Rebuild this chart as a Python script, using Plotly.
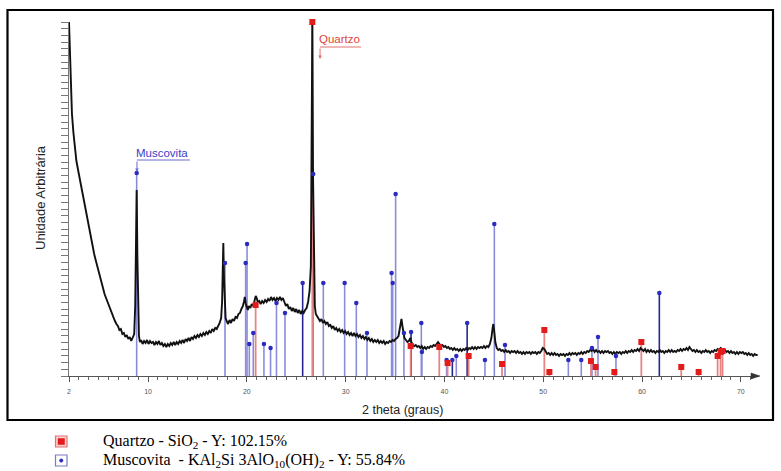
import plotly.graph_objects as go

# ---------------- data ----------------
# measured diffractogram: 2-theta (degrees) and intensity (arbitrary units)
scan_2theta = [
    2.00, 2.10, 2.20, 2.30, 2.45, 2.60, 2.75, 2.90, 3.05, 3.20,
    3.35, 3.50, 3.65, 3.80, 3.95, 4.10, 4.25, 4.40, 4.55, 4.70,
    4.85, 5.00, 5.15, 5.30, 5.45, 5.60, 5.75, 5.90, 6.05, 6.20,
    6.35, 6.50, 6.65, 6.80, 6.95, 7.10, 7.25, 7.40, 7.55, 7.70,
    7.85, 8.00, 8.15, 8.30, 8.45,
    8.60, 8.70, 8.78, 8.85, 8.92, 9.00, 9.08, 9.18, 9.30,
    9.45, 9.60, 9.75, 9.90, 10.05, 10.20, 10.35, 10.50, 10.65, 10.80,
    10.95, 11.10, 11.25, 11.40, 11.55, 11.70, 11.85, 12.00, 12.15, 12.30,
    12.45, 12.60, 12.75, 12.90, 13.05, 13.20, 13.35, 13.50, 13.65, 13.80,
    13.95, 14.10, 14.25, 14.40, 14.55, 14.70, 14.85, 15.00, 15.15, 15.30,
    15.45, 15.60, 15.75, 15.90, 16.05, 16.20, 16.35, 16.50, 16.65, 16.80,
    16.95, 17.10, 17.25, 17.40,
    17.50, 17.57, 17.62, 17.68, 17.76, 17.85, 17.95,
    18.10, 18.25, 18.40, 18.55, 18.70, 18.85, 19.00, 19.15, 19.30, 19.45, 19.60,
    19.70, 19.80, 19.90, 20.00, 20.10, 20.20,
    20.35, 20.50, 20.65, 20.80,
    20.90, 21.00, 21.10,
    21.25, 21.40, 21.55, 21.70, 21.85, 22.00, 22.15, 22.30, 22.45, 22.60,
    22.75, 22.90, 23.05, 23.20, 23.35, 23.50, 23.65, 23.80, 23.95, 24.10,
    24.25, 24.40, 24.55, 24.70, 24.85, 25.00, 25.15, 25.30, 25.45, 25.60,
    25.75, 25.90, 26.05, 26.20, 26.35,
    26.48, 26.56, 26.63, 26.70, 26.78, 26.88, 26.98,
    27.10, 27.25, 27.40, 27.55, 27.70, 27.85, 28.00, 28.15, 28.30, 28.45,
    28.60, 28.75, 28.90, 29.05, 29.20, 29.35, 29.50, 29.65, 29.80, 29.95,
    30.10, 30.25, 30.40, 30.55, 30.70, 30.85, 31.00, 31.15, 31.30, 31.45,
    31.60, 31.75, 31.90, 32.05, 32.20, 32.35, 32.50, 32.65, 32.80, 32.95,
    33.10, 33.25, 33.40, 33.55, 33.70, 33.85, 34.00, 34.15, 34.30, 34.45,
    34.60, 34.75, 34.90,
    35.05, 35.20, 35.35, 35.48, 35.58, 35.65, 35.75, 35.85, 35.95, 36.10,
    36.25, 36.40, 36.55, 36.65, 36.80,
    36.95, 37.10, 37.25, 37.40, 37.55, 37.70, 37.85, 38.00, 38.15, 38.30,
    38.45, 38.60, 38.75, 38.90, 39.05, 39.20, 39.35, 39.50, 39.65, 39.80,
    39.95, 40.10, 40.25, 40.40, 40.55, 40.70, 40.85, 41.00, 41.15, 41.30,
    41.45, 41.60, 41.75, 41.90, 42.05, 42.20, 42.35, 42.50, 42.65, 42.80,
    42.95, 43.10, 43.25, 43.40, 43.55, 43.70, 43.85, 44.00, 44.15, 44.30,
    44.45, 44.60,
    44.75, 44.88, 44.95, 45.05, 45.15, 45.30,
    45.45, 45.60, 45.75, 45.90, 46.05, 46.20, 46.35, 46.50, 46.65, 46.80,
    46.95, 47.10, 47.25, 47.40, 47.55, 47.70, 47.85, 48.00, 48.15, 48.30,
    48.45, 48.60, 48.75, 48.90, 49.05, 49.20, 49.35, 49.50, 49.65, 49.80,
    49.95, 50.10, 50.25, 50.40, 50.55, 50.70, 50.85, 51.00, 51.15, 51.30,
    51.45, 51.60, 51.75, 51.90, 52.05, 52.20, 52.35, 52.50, 52.65, 52.80,
    52.95, 53.10, 53.25, 53.40, 53.55, 53.70, 53.85, 54.00, 54.15, 54.30,
    54.45, 54.60, 54.75, 54.90, 55.05, 55.20, 55.35, 55.50, 55.65, 55.80,
    55.95, 56.10, 56.25, 56.40, 56.55, 56.70, 56.85, 57.00, 57.15, 57.30,
    57.45, 57.60, 57.75, 57.90, 58.05, 58.20, 58.35, 58.50, 58.65, 58.80,
    58.95, 59.10, 59.25, 59.40, 59.55, 59.70, 59.85, 60.00, 60.15, 60.30,
    60.45, 60.60, 60.75, 60.90, 61.05, 61.20, 61.35, 61.50, 61.65, 61.80,
    61.95, 62.10, 62.25, 62.40, 62.55, 62.70, 62.85, 63.00, 63.15, 63.30,
    63.45, 63.60, 63.75, 63.90, 64.05, 64.20, 64.35, 64.50, 64.65, 64.80,
    64.95, 65.10, 65.25, 65.40, 65.55, 65.70, 65.85, 66.00, 66.15, 66.30,
    66.45, 66.60, 66.75, 66.90, 67.05, 67.20, 67.35, 67.50, 67.65, 67.80,
    67.95, 68.10, 68.25, 68.40, 68.55, 68.70, 68.85, 69.00, 69.15, 69.30,
    69.45, 69.60, 69.75, 69.90, 70.05, 70.20, 70.35, 70.50, 70.65, 70.80,
    70.95, 71.10, 71.25, 71.40, 71.55, 71.70,
]
scan_intensity = [
    354, 320, 282, 262, 243, 227, 215, 207, 199, 190,
    183, 174, 168, 158, 151, 144, 135, 129, 122, 116,
    110, 104, 99, 93, 89, 82, 78, 74, 69, 66,
    61, 59, 55, 52, 50, 46, 47, 42, 43, 39,
    41, 37, 39, 35, 38,
    42, 70, 130, 186, 120, 60, 40, 34, 36,
    32, 35, 33, 36, 32, 35, 33, 34, 31, 34,
    32, 35, 31, 33, 30, 32, 29, 32, 30, 33,
    31, 34, 31, 34, 32, 35, 33, 36, 33, 37,
    35, 38, 35, 39, 37, 40, 38, 41, 39, 42,
    40, 43, 41, 44, 42, 45, 43, 47, 45, 48,
    47, 50, 53, 58,
    75, 110, 133, 100, 65, 58, 55,
    52, 56, 53, 57, 55, 59, 58, 62, 63, 67, 70,
    74, 79, 72, 68, 66, 70,
    68, 72, 70, 76,
    80, 78, 74,
    75, 72, 75, 73, 76, 74, 77, 75, 79, 76,
    78, 75, 78, 76, 79, 76, 78, 73, 70, 72,
    67, 69, 65, 68, 64, 67, 63, 66, 62, 65,
    63, 66, 68, 74, 85,
    110, 200, 354, 200, 110, 70, 62,
    60, 58, 55, 57, 53, 55, 52, 54, 50, 51,
    48, 50, 46, 48, 45, 47, 44, 46, 43, 45,
    42, 44, 41, 43, 40, 43, 40, 42, 39, 41,
    38, 40, 37, 39, 36, 38, 35, 37, 34, 36,
    34, 36, 33, 35, 33, 35, 32, 34, 33, 35,
    34, 36, 35,
    37, 38, 40, 46, 54, 57, 50, 42, 38, 36,
    34, 35, 38, 34, 31,
    30, 31, 29, 30, 28, 30, 27, 29, 27, 29,
    28, 30, 29, 31, 30, 32, 34, 32, 30, 31,
    29, 30, 28, 29, 27, 28, 26, 28, 26, 27,
    25, 27, 25, 27, 26, 28, 26, 28, 27, 29,
    27, 29, 27, 29, 28, 29, 28, 30, 28, 30,
    29, 32,
    38, 48, 52, 44, 34, 28,
    26, 27, 25, 26, 24, 26, 24, 25, 23, 25,
    24, 25, 23, 25, 23, 24, 22, 24, 22, 24,
    23, 24, 22, 24, 23, 24, 22, 24, 23, 25,
    28, 27, 24, 22, 23, 21, 23, 21, 23, 21,
    22, 20, 22, 21, 22, 20, 22, 21, 23, 21,
    23, 22, 23, 21, 23, 22, 24, 22, 24, 23,
    25, 24, 26, 25, 27, 24, 26, 24, 25, 23,
    25, 23, 25, 24, 25, 23, 24, 22, 24, 22,
    24, 23, 24, 22, 24, 23, 25, 23, 25, 24,
    26, 24, 26, 25, 27, 25, 28, 26, 25, 27,
    24, 26, 24, 26, 24, 25, 23, 25, 24, 26,
    24, 25, 23, 25, 24, 26, 24, 26, 24, 25,
    24, 26, 25, 27, 25, 27, 26, 28, 26, 29,
    27, 25, 26, 24, 26, 24, 25, 23, 25, 24,
    26, 24, 25, 23, 25, 24, 26, 25, 27, 26,
    28, 27, 25, 26, 24, 25, 23, 25, 23, 24,
    22, 24, 22, 24, 23, 24, 22, 23, 21, 23,
    21, 22, 20, 22, 21, 21,
]

# reference pattern sticks: Quartzo (SiO2)
quartzo_2theta = [20.89, 26.63, 36.58, 39.48, 40.32, 42.45, 45.83, 50.11, 50.62,
                  54.83, 55.30, 57.20, 59.93, 63.97, 65.73, 67.65, 67.95, 68.15]
quartzo_intensity = [71, 354, 30, 29, 13, 20, 12, 46, 4,
                     15, 9, 4, 34, 9, 4, 20, 24, 25]

# reference pattern sticks: Muscovita
muscovita_2theta = [8.85, 17.79, 19.88, 20.02, 20.25, 20.65, 21.73, 22.40, 23.00,
                    23.86, 25.65, 26.72, 27.74, 29.90, 31.08, 32.16, 34.65, 34.76,
                    35.06, 35.90, 36.62, 37.66, 37.72, 40.22, 40.80, 41.20, 42.30,
                    44.10, 45.05, 46.13, 52.54, 53.85, 54.93, 55.54, 57.36, 61.75]
muscovita_intensity = [203, 113, 113, 132, 32, 43, 32, 28, 73,
                       63, 93, 202, 93, 93, 73, 43, 103, 93,
                       182, 43, 44, 53, 24, 16, 16, 20, 53,
                       16, 152, 31, 16, 16, 28, 39, 20, 83]

x_tick_values = [2, 10, 20, 30, 40, 50, 60, 70]
x_tick_labels = ["2", "10", "20", "30", "40", "50", "60", "70"]

x_title = "2 theta (graus)"
y_title = "Unidade Arbitrária"
quartzo_label = "Quartzo"
muscovita_label = "Muscovita"
legend_lines = [
    "Quartzo - SiO<sub>2</sub> - Y: 102.15%",
    "Muscovita\u00a0 - KAl<sub>2</sub>Si 3AlO<sub>10</sub>(OH)<sub>2</sub> - Y: 55.84%",
]

assert len(scan_2theta) == len(scan_intensity)

# ---------------- layout geometry / styles ----------------
W, H = 781, 471
L, R, T, B = 69, 22, 22, 95
PX_PER_DEG = 9.88
plot_w = W - L - R
plot_h = H - T - B
X_RANGE = [2, 2 + plot_w / PX_PER_DEG]
Y_RANGE = [0, 354]


def pxx(px):
    return (px - L) / plot_w


def pxy(py):
    return (H - B - py) / plot_h


SANS = "Liberation Sans, Arial, sans-serif"
SERIF = "Liberation Serif, Times New Roman, serif"
BLUE_LIGHT = "#8b8bdc"
BLUE_DARK = "#262690"
BLUE_DOT = "#2b2bbf"
RED_LIGHT = "#e68484"
RED_SQ = "#e41b1b"
dark_muscovita_lines = {25.65, 36.62, 40.80, 42.30, 61.75}


def sticks(pos, inten):
    xs, ys = [], []
    for p, h in zip(pos, inten):
        xs += [p, p, None]
        ys += [0, h, None]
    return xs, ys


fig = go.Figure()

m_light = [(p, h) for p, h in zip(muscovita_2theta, muscovita_intensity) if p not in dark_muscovita_lines]
m_dark = [(p, h) for p, h in zip(muscovita_2theta, muscovita_intensity) if p in dark_muscovita_lines]

for group, col in ((m_light, BLUE_LIGHT), (m_dark, BLUE_DARK)):
    xs, ys = sticks([g[0] for g in group], [g[1] for g in group])
    fig.add_trace(go.Scatter(x=xs, y=ys, mode="lines", line=dict(color=col, width=1.6),
                             hoverinfo="skip", showlegend=False))

xs, ys = sticks(quartzo_2theta, quartzo_intensity)
fig.add_trace(go.Scatter(x=xs, y=ys, mode="lines", line=dict(color=RED_LIGHT, width=1.8),
                         hoverinfo="skip", showlegend=False))

fig.add_trace(go.Scatter(x=scan_2theta, y=scan_intensity, mode="lines",
                         line=dict(color="#111111", width=1.9), showlegend=False,
                         cliponaxis=False))

fig.add_trace(go.Scatter(x=muscovita_2theta, y=muscovita_intensity, mode="markers",
                         marker=dict(symbol="circle", size=4.5, color=BLUE_DOT),
                         showlegend=False, cliponaxis=False))
fig.add_trace(go.Scatter(x=quartzo_2theta, y=quartzo_intensity, mode="markers",
                         marker=dict(symbol="square", size=6, color=RED_SQ),
                         showlegend=False, cliponaxis=False))

# ---- phase labels with arrows ----
q_idx = quartzo_intensity.index(max(quartzo_intensity))
q_x = quartzo_2theta[q_idx] + 0.78
q_top = max(quartzo_intensity)
m_idx = muscovita_intensity.index(max(muscovita_intensity))
m_x = muscovita_2theta[m_idx] + 0.03
m_top = muscovita_intensity[m_idx]

annotations = []
shapes = []
# Quartzo
annotations.append(dict(x=q_x - 0.3, y=q_top - 17, xref="x", yref="y", text=quartzo_label,
                        showarrow=False, xanchor="left", yanchor="middle",
                        font=dict(family=SANS, size=11.5, color="#e0443c")))
shapes.append(dict(type="line", xref="x", yref="y", x0=q_x, x1=q_x + 4.15,
                   y0=q_top - 25, y1=q_top - 25, line=dict(color="#e27070", width=1)))
annotations.append(dict(x=q_x, y=q_top - 37, ax=q_x, ay=q_top - 25, xref="x", yref="y",
                        axref="x", ayref="y", text="", showarrow=True, arrowhead=2,
                        arrowsize=0.7, arrowwidth=1, arrowcolor="#e27070"))
# Muscovita
annotations.append(dict(x=m_x - 0.3, y=m_top + 20, xref="x", yref="y", text=muscovita_label,
                        showarrow=False, xanchor="left", yanchor="middle",
                        font=dict(family=SANS, size=11.5, color="#3c3cc8")))
shapes.append(dict(type="line", xref="x", yref="y", x0=m_x, x1=m_x + 5.35,
                   y0=m_top + 13, y1=m_top + 13, line=dict(color="#6a6ad0", width=1)))
annotations.append(dict(x=m_x, y=m_top + 1, ax=m_x, ay=m_top + 13, xref="x", yref="y",
                        axref="x", ayref="y", text="", showarrow=True, arrowhead=2,
                        arrowsize=0.7, arrowwidth=1, arrowcolor="#6a6ad0"))

# ---- axis titles ----
annotations.append(dict(x=pxx(402), y=pxy(410), xref="paper", yref="paper", text=x_title,
                        showarrow=False, xanchor="center", yanchor="middle",
                        font=dict(family=SANS, size=12.5, color="#222222")))
annotations.append(dict(x=pxx(40), y=pxy(198), xref="paper", yref="paper", text=y_title,
                        showarrow=False, xanchor="center", yanchor="middle", textangle=-90,
                        font=dict(family=SANS, size=13, color="#222222")))

# ---- x-axis arrow head ----
shapes.append(dict(type="path", xref="paper", yref="paper",
                   path=f"M {pxx(751)},{pxy(373)} L {pxx(760)},{pxy(376)} L {pxx(751)},{pxy(379)} Z",
                   fillcolor="#333333", line=dict(color="#333333", width=0.5)))

# ---- outer frame ----
shapes.append(dict(type="rect", xref="paper", yref="paper",
                   x0=pxx(7.5), x1=pxx(773), y0=pxy(420), y1=pxy(10),
                   line=dict(color="black", width=2.2), fillcolor="rgba(0,0,0,0)"))

# ---- legend below frame ----
shapes.append(dict(type="rect", xref="paper", yref="paper",
                   x0=pxx(55.5), x1=pxx(67), y0=pxy(447), y1=pxy(436),
                   line=dict(color="#e87070", width=1.2), fillcolor="#f8d0d0"))
shapes.append(dict(type="rect", xref="paper", yref="paper",
                   x0=pxx(58), x1=pxx(64.5), y0=pxy(444.5), y1=pxy(438.5),
                   line=dict(color=RED_SQ, width=0.5), fillcolor=RED_SQ))
shapes.append(dict(type="rect", xref="paper", yref="paper",
                   x0=pxx(55.5), x1=pxx(67), y0=pxy(466), y1=pxy(455),
                   line=dict(color="#7a7ac8", width=1.2), fillcolor="#ffffff"))
shapes.append(dict(type="circle", xref="paper", yref="paper",
                   x0=pxx(59.5), x1=pxx(63), y0=pxy(462.3), y1=pxy(458.8),
                   line=dict(color=BLUE_DOT, width=0.5), fillcolor=BLUE_DOT))
for i, txt in enumerate(legend_lines):
    annotations.append(dict(x=pxx(101), y=pxy(441 + 19 * i), xref="paper", yref="paper",
                            text=txt, showarrow=False, xanchor="left", yanchor="middle",
                            font=dict(family=SERIF, size=16, color="#000000")))

fig.update_layout(
    width=W, height=H, autosize=False,
    margin=dict(l=L, r=R, t=T, b=B, pad=0),
    paper_bgcolor="white", plot_bgcolor="white",
    showlegend=False,
    annotations=annotations,
    shapes=shapes,
    xaxis=dict(range=X_RANGE, showgrid=False, zeroline=False,
               showline=True, linecolor="#555555", linewidth=1,
               tickmode="array", tickvals=x_tick_values, ticktext=x_tick_labels,
               ticks="outside", ticklen=5, tickcolor="#555555", tickwidth=1,
               tickfont=dict(family=SANS, size=7, color="#555555"),
               ticklabelstandoff=4,
               minor=dict(tickmode="linear", tick0=0, dtick=1, ticks="outside",
                          ticklen=3, tickcolor="#666666", tickwidth=1)),
    yaxis=dict(range=Y_RANGE, showgrid=False, zeroline=False,
               showline=True, linecolor="#777777", linewidth=1,
               tickmode="linear", tick0=0, dtick=354 / 53,
               ticks="outside", ticklen=7, tickcolor="#777777", tickwidth=1,
               showticklabels=False),
)

fig.write_html(
    "out.html",
    config={"displayModeBar": False},
    post_script="document.body.style.margin='0px';document.body.style.overflow='hidden';",
)
